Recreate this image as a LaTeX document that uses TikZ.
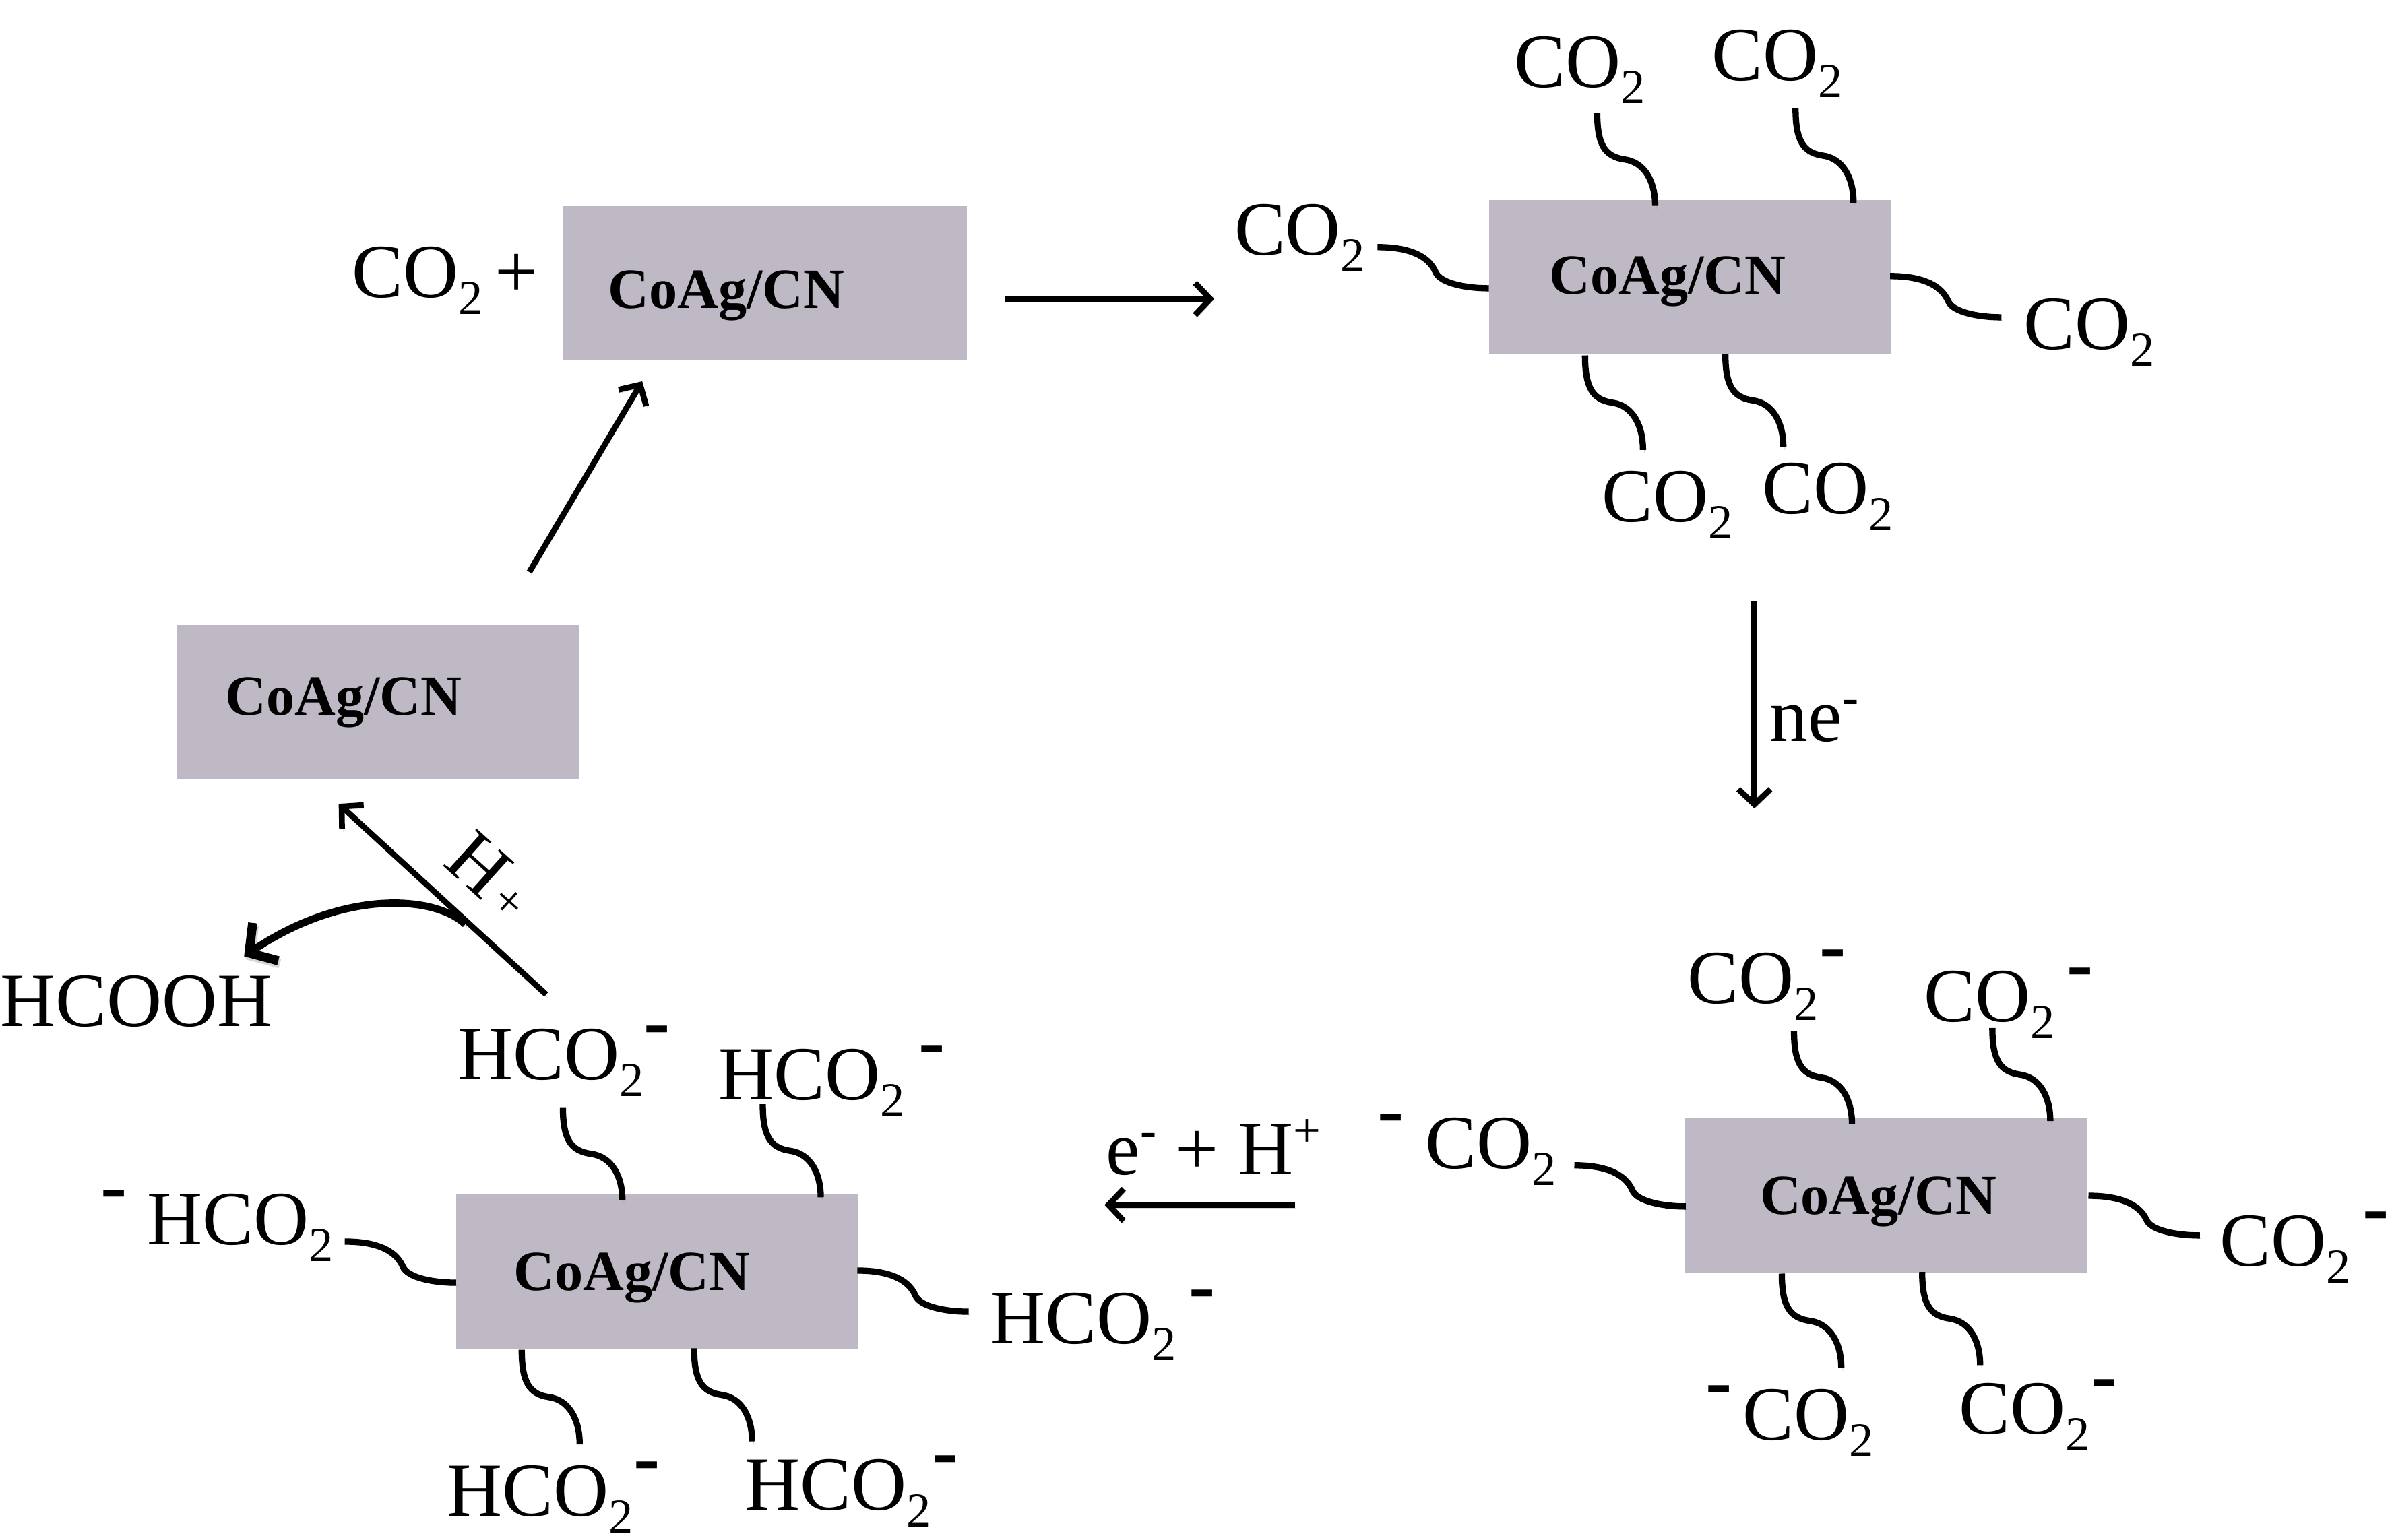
\documentclass[tikz,border=0pt]{standalone}
\usepackage{fontspec}
\setmainfont{Liberation Serif}
\usetikzlibrary{arrows.meta,calc}
\definecolor{boxfill}{HTML}{BFB9C6}
\newcommand\bigf{\fontsize{50.2}{50}\selectfont}
\newcommand\subf{\fontsize{32}{32}\selectfont}
\newcommand\subtwo{\raisebox{-11pt}{\subf 2}}
\newcommand\cotwo{CO\subtwo}
\newcommand\hcotwo{HCO\subtwo}
\newcommand\chg{\raisebox{21pt}{\fontsize{52}{52}\bfseries\selectfont -}}
\newcommand\smallminus{\raisebox{18pt}{\subf\bfseries -}}
\newcommand\sq[5]{\coordinate (#2a) at (#3); \coordinate (#2b) at (#4); \draw[#1] (#2a) to (#2b);}
\tikzset{
  x=1pt,y=-1pt,
  shade line/.style={preaction={draw=black!45,opacity=.35,transform canvas={shift={(1pt,-2pt)}}}},
  link/.style={line width=4.1pt,line cap=butt,shade line},
  arrowline/.style={line width=3.8pt,shade line,-{Straight Barb[length=10pt,width=21pt,line width=3.8pt]}},
  squigv/.style={link,to path={let \p1=(\tikztostart),\p2=(\tikztotarget),\p3=($(\p2)-(\p1)$) in
     .. controls (\x1,\y1+.34*\y3) and (\x1+.13*\x3,\y1+.47*\y3) .. (\x1+.47*\x3,\y1+.5*\y3)
     .. controls (\x1+.82*\x3,\y1+.53*\y3) and (\x2,\y1+.74*\y3) .. (\x2,\y2)}},
  squigh/.style={link,to path={let \p1=(\tikztostart),\p2=(\tikztotarget),\p3=($(\p2)-(\p1)$) in
     .. controls (\x1+.26*\x3,\y1) and (\x1+.45*\x3,\y1+.18*\y3) .. (\x1+.52*\x3,\y1+.6*\y3)
     .. controls (\x1+.56*\x3,\y1+.89*\y3) and (\x1+.81*\x3,\y2) .. (\x2,\y2)}},
  cat/.style={fill=boxfill,draw=none,minimum width=263.6pt,minimum height=101pt,anchor=north west,inner sep=0pt},
  catlabel/.style={anchor=base west,inner sep=0pt,font=\fontsize{37.2}{37}\bfseries\selectfont},
  chem/.style={anchor=base west,inner sep=0pt,font=\bigf},
}
\begin{document}
\begin{tikzpicture}
\useasboundingbox (0,0) rectangle (1568,1009.3);
% catalyst boxes
\node[cat,minimum width=264.6pt] (b1) at (369,135) {};
\node[cat] (b2) at (976,131) {};
\node[cat] (b3) at (1104.5,733) {};
\node[cat] (b4) at (299,783) {};
\node[cat] (b5) at (116,409.5) {};
\node[catlabel] (l1) at (398.5,202) {CoAg/CN};
\node[catlabel] (l2) at (1015.5,193) {CoAg/CN};
\node[catlabel] (l3) at (1153.5,796) {CoAg/CN};
\node[catlabel] (l4) at (336.5,846) {CoAg/CN};
\node[catlabel] (l5) at (147.5,469) {CoAg/CN};
% start
\node[chem] (s1) at (230.5,195) {\cotwo};
\node[chem] (s2) at (324,195) {+};
% CO2 adsorbed
\node[chem] (a1) at (992.5,57) {\cotwo};
\node[chem] (a2) at (1122,53) {\cotwo};
\node[chem] (a3) at (809,167) {\cotwo};
\node[chem] (a4) at (1326.5,229) {\cotwo};
\node[chem] (a5) at (1050,342) {\cotwo};
\node[chem] (a6) at (1155,337) {\cotwo};
% CO2 reduced
\node[chem] (c1) at (1106,658) {\cotwo\hspace{1pt}\chg};
\node[chem] (c2) at (1261,670) {\cotwo\hspace{8pt}\chg};
\node[chem] (c3) at (903,766) {\chg\hspace{14pt}\cotwo};
\node[chem] (c4) at (1455,830) {\cotwo\hspace{8pt}\chg};
\node[chem] (c5) at (1118,944) {\chg\hspace{7pt}\cotwo};
\node[chem] (c6) at (1284,940) {\cotwo\hspace{1pt}\chg};
% HCO2
\node[chem] (h1) at (300,708) {\hcotwo\chg};
\node[chem] (h2) at (471,721) {\hcotwo\hspace{9pt}\chg};
\node[chem] (h3) at (66,816) {\chg\hspace{13pt}\hcotwo};
\node[chem] (h4) at (649,881) {\hcotwo\hspace{8pt}\chg};
\node[chem] (h5) at (293,994) {\hcotwo\chg};
\node[chem] (h6) at (488,990) {\hcotwo\hspace{1pt}\chg};
\node[chem] (acid) at (0,673) {HCOOH};
% labels
\node[chem] (ne) at (1160,486) {ne\smallminus};
\node[chem] (eh) at (725,770) {e\smallminus{} + H\raisebox{18pt}{\subf +}};
\node[inner sep=0pt,rotate=-42,font=\bigf] (hp) at (322,574) {H\hspace{4pt}\raisebox{1pt}{\fontsize{32}{32}\selectfont +}};
% squiggles
\sq{squigv}{p1}{1047,74}{1085,135}{}
\sq{squigv}{p2}{1177,71}{1215,133}{}
\sq{squigv}{p3}{1039,233}{1077,295}{}
\sq{squigv}{p4}{1131,232}{1169,293}{}
\sq{squigh}{p5}{903,162}{976,189}{}
\sq{squigh}{p6}{1239,181}{1312,208}{}
\sq{squigv}{q1}{1176,676}{1214,737}{}
\sq{squigv}{q2}{1306,674}{1344,735}{}
\sq{squigv}{q3}{1168,835}{1207,897}{}
\sq{squigv}{q4}{1260,834}{1298,895}{}
\sq{squigh}{q5}{1032,764}{1105,791}{}
\sq{squigh}{q6}{1369,784}{1442,810}{}
\sq{squigv}{r1}{369,726}{408,787}{}
\sq{squigv}{r2}{500,724}{538,785}{}
\sq{squigv}{r3}{342,885}{380,947}{}
\sq{squigv}{r4}{455,884}{493,945}{}
\sq{squigh}{r5}{226,814}{299,841}{}
\sq{squigh}{r6}{562,833}{635,860}{}
% cycle arrows
\coordinate (t1a) at (659,196); \coordinate (t1b) at (796,196);
\coordinate (t2a) at (1150,394); \coordinate (t2b) at (1150,530);
\coordinate (t3a) at (849,790); \coordinate (t3b) at (724,790);
\coordinate (t4a) at (358,652); \coordinate (t4b) at (222,527);
\coordinate (t5a) at (347,375); \coordinate (t5b) at (421,250);
\coordinate (t6a) at (305,606); \coordinate (t6b) at (160,627);
\draw[arrowline] (t1a) -- (t1b);
\draw[arrowline] (t2a) -- (t2b);
\draw[arrowline] (t3a) -- (t3b);
\draw[arrowline] (t4a) -- (t4b);
\draw[arrowline] (t5a) -- (t5b);
\draw[line width=4.8pt,shade line,-{Straight Barb[length=13pt,width=30pt,line width=6pt]}]
  (t6a) .. controls (285,587) and (225,583) .. (t6b);
\end{tikzpicture}
\end{document}
